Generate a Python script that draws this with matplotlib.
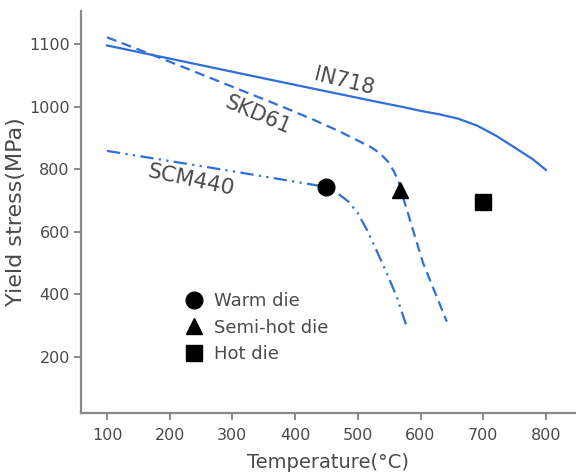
import numpy as np
import matplotlib
matplotlib.use("Agg")
import matplotlib.pyplot as plt

# ---- data (temperature in C, yield stress in MPa) ----
in718_t = [100, 376, 535, 570, 600, 630, 660, 690, 720, 750, 780, 800]
in718_s = [1098, 1040, 1007, 1000, 987, 976, 962, 940, 908, 870, 831, 798]

skd61_t = [100, 180, 380, 430, 470, 500, 520, 535, 548, 558, 566, 572, 604, 642]
skd61_s = [1111, 1080, 1000, 958, 922, 892, 872, 852, 825, 792, 755, 712, 501, 313]

scm440_t = [100, 300, 440, 455, 470, 485, 500, 515, 530, 546, 562, 578]
scm440_s = [859, 794, 747, 737, 720, 697, 660, 605, 540, 469, 393, 297]

die_names = ["Warm die", "Semi-hot die", "Hot die"]
die_t = [450, 568, 700]
die_s = [745, 734, 697]
die_markers = ["o", "^", "s"]

x_ticks = [100, 200, 300, 400, 500, 600, 700, 800]
y_ticks = [200, 400, 600, 800, 1000, 1100]

BLUE = "#2f6fd6"
GREY = "#888888"
TXT = "#4a4a4a"


# the original axis is stretched above 1000 MPa (1000->1100 spans as much as 800->1000)
def fwd(v):
    v = np.asarray(v, dtype=float)
    return np.where(v > 1000, 1000 + 2 * (v - 1000), v)


def inv(u):
    u = np.asarray(u, dtype=float)
    return np.where(u > 1000, 1000 + (u - 1000) / 2, u)


fig = plt.figure(figsize=(5.76, 4.72), dpi=100)
ax = fig.add_axes([0.1406, 0.1256, 0.8594, 0.851])
ax.set_yscale("function", functions=(fwd, inv))

ax.plot(in718_t, in718_s, color=BLUE, lw=1.6)
ax.plot(skd61_t, skd61_s, color=BLUE, lw=1.6, dashes=(4.5, 2.6))
ax.plot(scm440_t, scm440_s, color=BLUE, lw=1.6, dashes=(6, 2.4, 1, 2.4, 1, 2.4))

for name, t, s, m in zip(die_names, die_t, die_s, die_markers):
    ax.plot(t, s, m, color="black", ms=12, ls="none", label=name, zorder=5)

ax.text(478, 1041, "IN718", rotation=-14, color=TXT, fontsize=15,
        ha="center", va="center")
ax.text(341, 974, "SKD61", rotation=-23, color=TXT, fontsize=15,
        ha="center", va="center")
ax.text(234, 764, "SCM440", rotation=-12, color=TXT, fontsize=15.5,
        ha="center", va="center")

ax.set_xlim(58.5, 848)
ax.set_ylim(22, 1153)
ax.set_xticks(x_ticks)
ax.set_yticks(y_ticks)
ax.set_yticklabels([str(v) for v in y_ticks])

for side in ["top", "right"]:
    ax.spines[side].set_visible(False)
for side in ["left", "bottom"]:
    ax.spines[side].set_color(GREY)
    ax.spines[side].set_linewidth(1.6)
ax.tick_params(direction="out", length=5, width=1.4, color=GREY,
               labelcolor=TXT, labelsize=11.5)
ax.tick_params(axis="y", pad=3)
ax.tick_params(axis="x", pad=6)

ax.set_xlabel("Temperature(°C)", fontsize=14, color=TXT, labelpad=7)
ax.set_ylabel("Yield stress(MPa)", fontsize=16, color=TXT, labelpad=2)

ax.legend(loc="upper left", bbox_to_anchor=(0.305, 0.4),
          bbox_transform=fig.transFigure, frameon=False, fontsize=13,
          borderpad=0, handlelength=1, handletextpad=0.65, labelspacing=0.46,
          labelcolor=TXT, numpoints=1)

fig.savefig("out.png", dpi=100)
